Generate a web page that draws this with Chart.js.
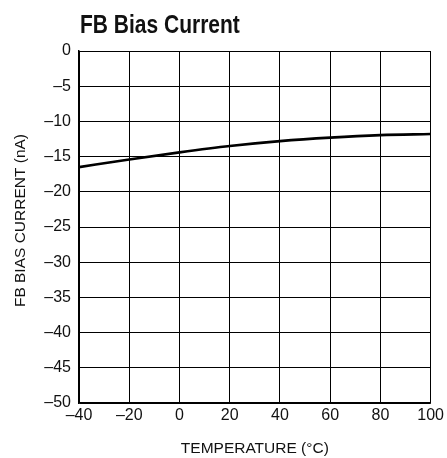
<!DOCTYPE html>
<html>
<head>
<meta charset="utf-8">
<script src="https://cdn.jsdelivr.net/npm/chart.js@4/dist/chart.umd.min.js"></script>
<style>
html,body{margin:0;padding:0;background:#fff;}
#wrap{width:447px;height:458px;position:relative;}
</style>
</head>
<body>
<div id="wrap"><canvas id="c"></canvas></div>
<script>
const chartTitle = 'FB Bias Current';
const xAxisTitle = 'TEMPERATURE (°C)';
const yAxisTitle = '   FB BIAS CURRENT (nA)';
const temperatures = [-40, -20, 0, 20, 40, 60, 80, 100];
const biasCurrent = [-16.5, -15.4, -14.4, -13.5, -12.8, -12.3, -11.95, -11.8];
const xTicks = [-40, -20, 0, 20, 40, 60, 80, 100];
const yTicks = [0, -5, -10, -15, -20, -25, -30, -35, -40, -45, -50];

const FONT = "'Liberation Sans', Arial, sans-serif";
const fmt = v => (v < 0 ? '\u2013' + Math.abs(v) : String(v));

const titlePlugin = {
  id: 'leftTitle',
  afterDraw(chart) {
    const ctx = chart.ctx;
    ctx.save();
    ctx.fillStyle = '#111';
    ctx.font = "bold 25px 'Liberation Sans', Arial, sans-serif";
    ctx.textBaseline = 'alphabetic';
    ctx.textAlign = 'left';
    ctx.translate(chart.chartArea.left + 1, 33);
    ctx.scale(0.84, 1);
    ctx.fillText(chartTitle, 0, 0);
    ctx.restore();
  }
};

new Chart(document.getElementById('c'), {
  type: 'line',
  data: {
    datasets: [{
      data: temperatures.map((t, i) => ({x: t, y: biasCurrent[i]})),
      borderColor: '#000',
      borderWidth: 2.6,
      pointRadius: 0,
      tension: 0.4,
      cubicInterpolationMode: 'monotone',
      fill: false
    }]
  },
  options: {
    responsive: true,
    maintainAspectRatio: false,
    animation: false,
    devicePixelRatio: 1,
    layout: {padding: {top: 51, right: 16, left: 0, bottom: 0}},
    plugins: {legend: {display: false}, tooltip: {enabled: false}, title: {display: false}},
    scales: {
      x: {
        type: 'linear',
        min: -40, max: 100,
        afterBuildTicks: s => { s.ticks = xTicks.map(v => ({value: v})); },
        afterFit: s => { s.height = 55; },
        grid: {color: '#000', lineWidth: 1, drawTicks: false},
        border: {color: '#000', width: 1.5},
        ticks: {color: '#111', font: {family: FONT, size: 16}, padding: 3, maxRotation: 0, callback: v => fmt(v)},
        title: {display: true, text: xAxisTitle, color: '#111', font: {family: FONT, size: 15.5}, padding: {top: 0, bottom: 0}}
      },
      y: {
        type: 'linear',
        min: -50, max: 0,
        afterBuildTicks: s => { s.ticks = yTicks.map(v => ({value: v})); },
        afterFit: s => { s.width = 79; },
        grid: {color: '#000', lineWidth: 1, drawTicks: false},
        border: {color: '#000', width: 1.5},
        ticks: {color: '#111', font: {family: FONT, size: 16}, padding: 8, callback: v => fmt(v)},
        title: {display: true, text: yAxisTitle, color: '#111', font: {family: FONT, size: 15.5}, padding: {top: 11, bottom: 0}}
      }
    }
  },
  plugins: [titlePlugin]
});
</script>
</body>
</html>
